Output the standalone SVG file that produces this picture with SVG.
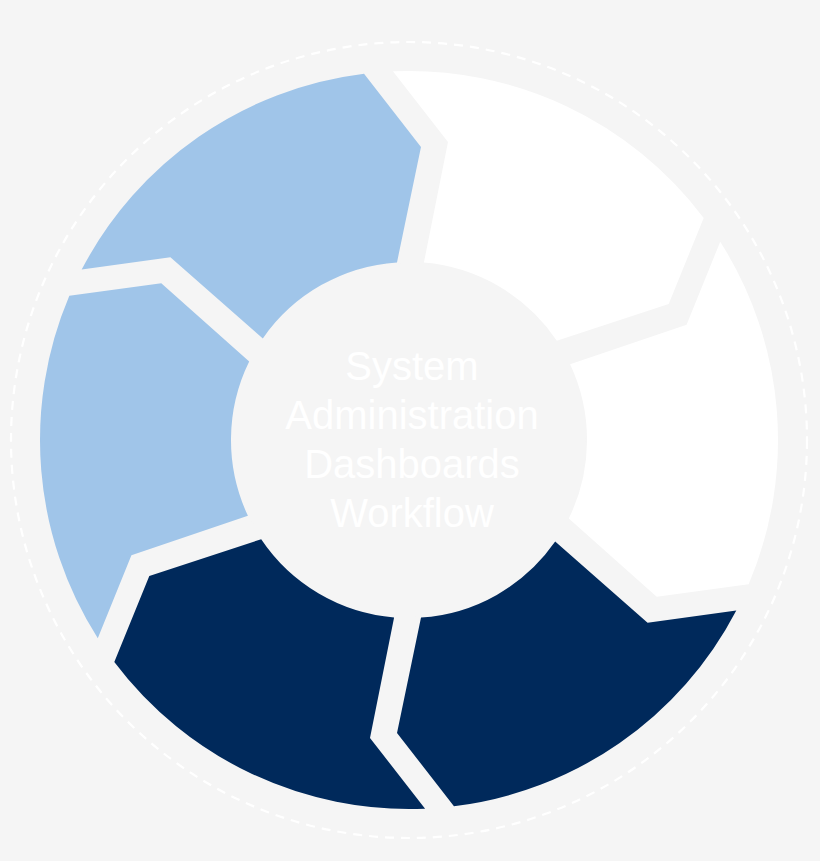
<svg xmlns="http://www.w3.org/2000/svg" xmlns:xlink="http://www.w3.org/1999/xlink" width="820" height="861" viewBox="0 0 820 861">
<style>
.bg{fill:#f5f5f5}
.ring{fill:none;stroke:#ffffff;stroke-width:2.2;stroke-dasharray:9 7}
.white{fill:#ffffff}
.blue{fill:#a0c5e9}
.navy{fill:#00295b}
.label{font-family:"Liberation Sans","DejaVu Sans",sans-serif;font-size:40px;fill:#ffffff;text-anchor:middle}
</style>
<defs>
<path id="seg" d="M -16.1 -368.65 A 369 369 0 0 1 294.7 -222.07 L 259.7 -136.1 L 147.8 -99.2 A 178 178 0 0 0 14.9 -177.4 L 39 -298 Z"/>
</defs>
<rect class="bg" x="0" y="0" width="820" height="861"/>
<circle class="ring" cx="409" cy="440" r="398"/>
<g id="connectors"></g>
<g transform="translate(409 440)">
<g id="seg-top-right"><use xlink:href="#seg" href="#seg" class="white"/></g>
<g id="seg-right"><use xlink:href="#seg" href="#seg" class="white" transform="rotate(60)"/></g>
<g id="seg-bottom-right"><use xlink:href="#seg" href="#seg" class="navy" transform="rotate(120)"/></g>
<g id="seg-bottom-left"><use xlink:href="#seg" href="#seg" class="navy" transform="rotate(180)"/></g>
<g id="seg-left"><use xlink:href="#seg" href="#seg" class="blue" transform="rotate(240)"/></g>
<g id="seg-top-left"><use xlink:href="#seg" href="#seg" class="blue" transform="rotate(300)"/></g>
</g>
<g id="center">
<circle class="bg" cx="409" cy="440" r="177"/>
<text class="label" x="412" y="380">System</text>
<text class="label" x="412" y="429">Administration</text>
<text class="label" x="412" y="478">Dashboards</text>
<text class="label" x="412" y="527">Workflow</text>
</g>
</svg>
